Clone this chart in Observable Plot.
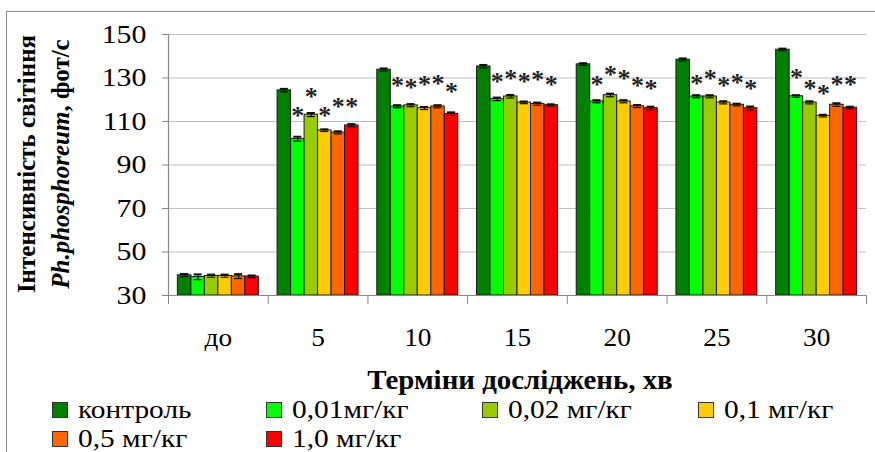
<!DOCTYPE html>
<html>
<head>
<meta charset="utf-8">
<script src="https://cdn.jsdelivr.net/npm/d3@7"></script>
<script src="https://cdn.jsdelivr.net/npm/@observablehq/plot@0.6"></script>
<style>
  html, body { margin: 0; padding: 0; background: #fff; }
  #wrap { position: relative; width: 875px; height: 452px; overflow: hidden; background: #fff; color: #000; font-family: 'Liberation Serif', 'Times New Roman', serif; }
  #frame { position: absolute; left: 6px; top: 11px; width: 900px; height: 500px; border-left: 1.5px solid #8a8a8a; border-top: 1.5px solid #8a8a8a; }
  #chart { position: absolute; left: 0; top: 0; }
  #xtitle { position: absolute; left: 520px; top: 380px; transform: translate(-50%, -50%) scaleX(1.07); font-weight: bold; font-size: 27px; white-space: nowrap; }
  #ytitle { position: absolute; left: 44px; top: 164px; width: 300px; transform: translate(-50%, -50%) rotate(-90deg); text-align: center; font-weight: bold; font-size: 25px; line-height: 34px; white-space: nowrap; }
  .leg { position: absolute; display: flex; align-items: center; font-size: 26px; white-space: nowrap; transform: translateY(-50%); }
  .leg span { display: inline-block; transform: scaleX(1.13); transform-origin: left center; }
  .sw { width: 14px; height: 14px; border: 1px solid #333; margin-right: 10px; }
</style>
</head>
<body>
<div id="wrap">
  <div id="frame"></div>
  <div id="chart"></div>
  <div id="ytitle">Інтенсивність світіння<br><i>Ph.phosphoreum</i>, фот/с</div>
  <div id="xtitle">Терміни досліджень, хв</div>
  <div id="legend"></div>
</div>
<script>
// ---- data ----
const times = ["до", "5", "10", "15", "20", "25", "30"];
const series = ["контроль", "0,01мг/кг", "0,02 мг/кг", "0,1 мг/кг", "0,5 мг/кг", "1,0 мг/кг"];
const colors = ["#008000", "#00ff00", "#99cc00", "#ffcc00", "#ff6600", "#ff0000"];
const yTicks = [30, 50, 70, 90, 110, 130, 150];

const control = [39.3, 124.3, 133.8, 135.3, 136.3, 138.4, 143.0];
const s001    = [38.5, 102.0, 116.9, 120.3, 119.2, 121.5, 121.6];
const s002    = [39.0, 113.1, 117.4, 121.5, 122.1, 121.5, 118.7];
const s01     = [39.0, 105.9, 116.1, 118.7, 119.2, 118.7, 112.6];
const s05     = [38.8, 104.9, 116.9, 118.1, 117.0, 117.7, 117.7];
const s10     = [38.7, 108.2, 113.5, 117.5, 116.1, 116.1, 116.3];

const eControl = [0.6, 0.7, 0.6, 0.7, 0.5, 0.6, 0.5];
const e001     = [1.2, 1.0, 0.6, 0.7, 0.6, 0.6, 0.5];
const e002     = [0.6, 0.8, 0.6, 0.7, 0.7, 0.6, 0.6];
const e01      = [0.6, 0.5, 0.6, 0.5, 0.6, 0.6, 0.5];
const e05      = [1.0, 0.6, 0.6, 0.6, 0.6, 0.5, 0.7];
const e10      = [0.5, 0.6, 0.7, 0.4, 0.7, 0.8, 0.5];

// heights (in chart units) of the significance asterisks; null = none
const starControl = [null, null, null, null, null, null, null];
const star001     = [null, 115.0, 128.9, 130.7, 129.3, 129.6, 132.4];
const star002     = [null, 123.5, 127.9, 131.9, 133.8, 132.2, 127.6];
const star01      = [null, 115.0, 129.3, 130.4, 131.9, 128.9, 125.0];
const star05      = [null, 118.9, 129.8, 131.6, 128.9, 130.1, 129.2];
const star10      = [null, 119.2, 126.2, 129.3, 127.3, 127.6, 129.2];

// ---- table ----
const valueSets = [control, s001, s002, s01, s05, s10];
const errSets = [eControl, e001, e002, e01, e05, e10];
const starSets = [starControl, star001, star002, star01, star05, star10];
const groupSpan = 0.812;               // fraction of a group band occupied by bars
const w = groupSpan / series.length;   // bar width in group units
const rows = [];
times.forEach((t, g) => {
  series.forEach((s, k) => {
    rows.push({g, k, time: t, series: s, value: valueSets[k][g], err: errSets[k][g], star: starSets[k][g]});
  });
});
const left = d => d.g + (d.k - series.length / 2) * w;
const right = d => left(d) + w;
const mid = d => left(d) + w / 2;

const FONT = "'Liberation Serif', 'Times New Roman', serif";

const plot = Plot.plot({
  width: 875,
  height: 395,
  marginTop: 34,
  marginBottom: 100,
  marginLeft: 168,
  marginRight: 9,
  style: {fontFamily: FONT, fontSize: "26px", color: "#000", background: "transparent"},
  x: {domain: [-0.5, times.length - 0.5], axis: null},
  y: {domain: [30, 150], axis: null},
  color: {domain: series, range: colors},
  marks: [
    Plot.gridY(yTicks, {stroke: "#c0c0c0", strokeOpacity: 1, strokeWidth: 1.2}),
    Plot.rectY(rows, {x1: left, x2: right, y1: 30, y2: "value", fill: "series", stroke: "#1a1a1a", strokeWidth: 1}),
    Plot.ruleX(rows, {x: mid, y1: d => d.value - d.err, y2: d => d.value + d.err, stroke: "#111", strokeWidth: 1.2}),
    Plot.ruleY(rows, {x1: d => mid(d) - w * 0.3, x2: d => mid(d) + w * 0.3, y: d => d.value + d.err, stroke: "#111", strokeWidth: 2}),
    Plot.ruleY(rows, {x1: d => mid(d) - w * 0.3, x2: d => mid(d) + w * 0.3, y: d => d.value - d.err, stroke: "#111", strokeWidth: 1.2}),
    Plot.text(rows.filter(d => d.star != null), {x: mid, y: "star", text: () => "*", fontSize: 26, fontWeight: "bold", dy: 5, fill: "#222", ariaLabel: "stars"}),
    Plot.axisY({ticks: yTicks, tickSize: 6, tickPadding: 16, label: null, stroke: "#888", fontSize: 26, fill: "#000"}),
    Plot.ruleX([-0.5], {y1: 30, y2: 150, stroke: "#888", strokeWidth: 1.2}),
    Plot.ruleY([30], {stroke: "#888", strokeWidth: 1.2}),
    Plot.axisX({ticks: d3.range(-0.5, times.length, 1), tickSize: 9, tickFormat: () => "", label: null, stroke: "#888"}),
    Plot.axisX({ticks: d3.range(times.length), tickSize: 0, tickPadding: 32, tickFormat: i => times[i], label: null, fontSize: 26, fill: "#000"})
  ]
});
document.getElementById("chart").appendChild(plot);

// stretch text horizontally around its anchor (the reference's text is wide)
function stretch(t, s) {
  const x = t.getAttribute("x");
  let tr = t.getAttribute("transform") || "";
  if (x != null && !isNaN(+x)) { tr += ` translate(${x},0)`; t.removeAttribute("x"); }
  tr += ` scale(${s},1)`;
  t.setAttribute("transform", tr.trim());
}
plot.querySelectorAll('g[aria-label="y-axis tick label"] text').forEach(t => stretch(t, 1.15));
plot.querySelectorAll('g[aria-label="x-axis tick label"] text').forEach(t => stretch(t, 1.05));

// ---- legend ----
const legPos = [[52, 410], [266, 410], [482, 410], [698, 410], [52, 439], [266, 439]];
const leg = document.getElementById("legend");
series.forEach((s, i) => {
  const item = document.createElement("div");
  item.className = "leg";
  item.style.left = legPos[i][0] + "px";
  item.style.top = legPos[i][1] + "px";
  const sw = document.createElement("div");
  sw.className = "sw";
  sw.style.background = colors[i];
  const tx = document.createElement("span");
  tx.textContent = s;
  item.appendChild(sw);
  item.appendChild(tx);
  leg.appendChild(item);
});
</script>
</body>
</html>
